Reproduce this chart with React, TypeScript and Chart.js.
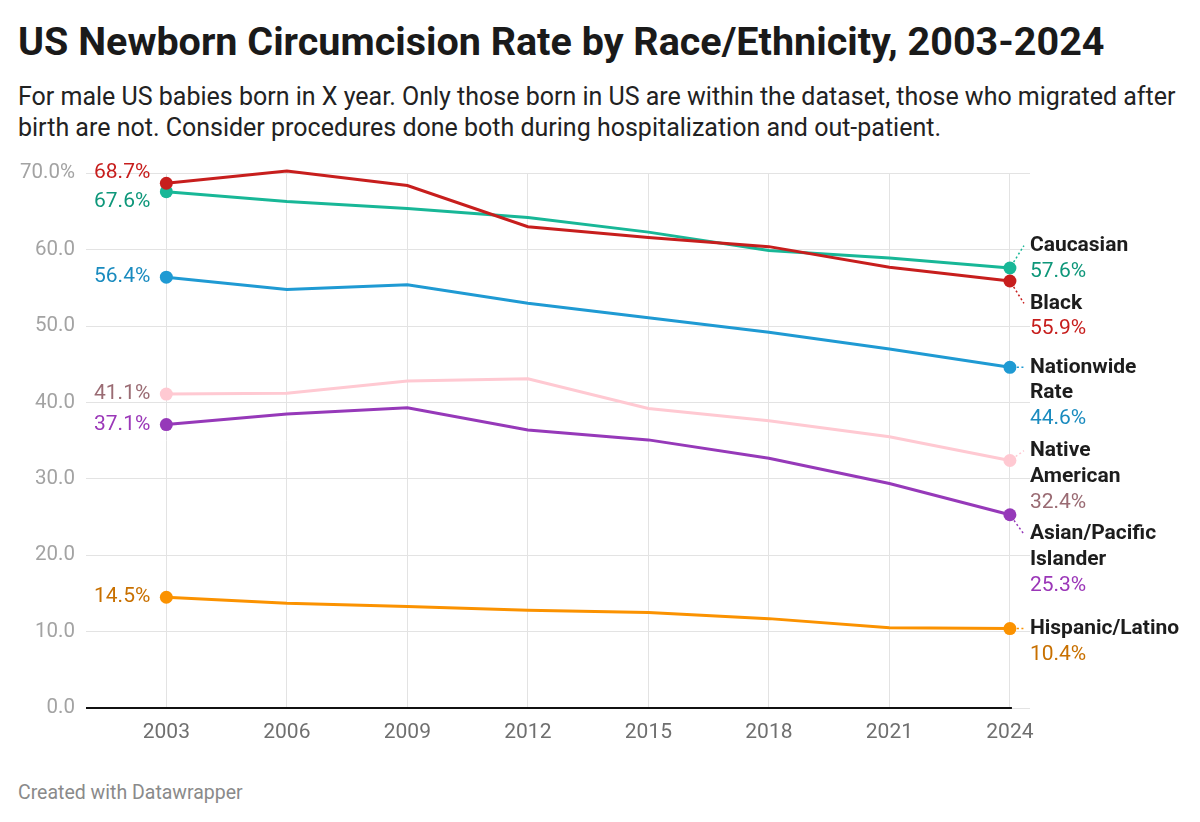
import React, { useEffect, useRef } from "react";
import { Chart, registerables } from "chart.js";

Chart.register(...registerables);

// ---------- data ----------
const years = [2003, 2006, 2009, 2012, 2015, 2018, 2021, 2024];
const seriesNames = [
  "Black",
  "Caucasian",
  "Nationwide Rate",
  "Native American",
  "Asian/Pacific Islander",
  "Hispanic/Latino",
];
const black = [68.7, 70.3, 68.4, 63.0, 61.6, 60.4, 57.7, 55.9];
const caucasian = [67.6, 66.3, 65.4, 64.2, 62.3, 59.9, 58.9, 57.6];
const nationwide = [56.4, 54.8, 55.4, 53.0, 51.1, 49.2, 47.0, 44.6];
const nativeAmerican = [41.1, 41.2, 42.8, 43.1, 39.2, 37.6, 35.5, 32.4];
const asianPacific = [37.1, 38.5, 39.3, 36.4, 35.1, 32.7, 29.4, 25.3];
const hispanic = [14.5, 13.7, 13.3, 12.8, 12.5, 11.7, 10.5, 10.4];
const yTickValues = [0, 10, 20, 30, 40, 50, 60, 70];

const seriesValues = [black, caucasian, nationwide, nativeAmerican, asianPacific, hispanic];
const lineColors = ["#c71e1d", "#18b797", "#1f9ad3", "#ffc9d2", "#9639b9", "#fb9200"];
const textColors = ["#c71e1d", "#0e977a", "#1a8bbf", "#9a6b73", "#9b37b8", "#c87000"];

const FONT = "Roboto, 'Noto Sans', sans-serif";

type Block = { top: number; h: number; idx: number };

// resolve overlaps: split each overlap between the pair, but the upper label
// only moves up as far as the space above it allows
function spread(blocks: Block[], gap: number) {
  blocks.sort((a, b) => a.top - b.top);
  for (let iter = 0; iter < 300; iter++) {
    let moved = false;
    for (let i = 0; i < blocks.length - 1; i++) {
      const a = blocks[i];
      const b = blocks[i + 1];
      const overlap = a.top + a.h + gap - b.top;
      if (overlap > 0.01) {
        const prev = i > 0 ? blocks[i - 1] : null;
        const room = prev ? a.top - (prev.top + prev.h + gap) : Infinity;
        const up = Math.min(overlap / 2, Math.max(room, 0));
        a.top -= up;
        b.top += overlap - up;
        moved = true;
      }
    }
    if (!moved) break;
  }
  return blocks;
}

function wrapText(ctx: CanvasRenderingContext2D, text: string, maxW: number) {
  const words = text.split(" ");
  const lines: string[] = [];
  let cur = "";
  for (const w of words) {
    const test = cur ? cur + " " + w : w;
    if (cur && ctx.measureText(test).width > maxW) {
      lines.push(cur);
      cur = w;
    } else {
      cur = test;
    }
  }
  if (cur) lines.push(cur);
  return lines;
}

export default function App() {
  const ref = useRef<HTMLCanvasElement>(null);

  useEffect(() => {
    const canvas = ref.current;
    if (!canvas) return;

    const baselinePlugin = {
      id: "baseline",
      beforeDatasetsDraw(chart: any) {
        const { ctx, scales } = chart;
        const y0 = scales.y.getPixelForValue(0);
        const xl = chart.chartArea.left;
        const xr = scales.x.getPixelForValue(years[years.length - 1]) + 2;
        ctx.save();
        ctx.strokeStyle = "#111";
        ctx.lineWidth = 2;
        ctx.beginPath();
        ctx.moveTo(xl, y0);
        ctx.lineTo(xr, y0);
        ctx.stroke();
        ctx.restore();
      },
    };

    const labelPlugin = {
      id: "endLabels",
      afterDatasetsDraw(chart: any) {
        const { ctx, scales } = chart;
        const xs = scales.x;
        const ys = scales.y;
        const last = years.length - 1;
        const xFirst = xs.getPixelForValue(years[0]);
        const xLast = xs.getPixelForValue(years[last]);
        ctx.save();

        // left start labels
        const leftLH = 23;
        const leftBlocks: Block[] = seriesValues.map((vals, i) => ({
          top: ys.getPixelForValue(vals[0]) - leftLH / 2,
          h: leftLH,
          idx: i,
        }));
        spread(leftBlocks, 6);
        ctx.font = `21px ${FONT}`;
        ctx.textAlign = "right";
        ctx.textBaseline = "middle";
        for (const b of leftBlocks) {
          ctx.fillStyle = textColors[b.idx];
          ctx.fillText(seriesValues[b.idx][0].toFixed(1) + "%", xFirst - 16, b.top + leftLH / 2);
        }

        // right end labels
        const LH = 25.8;
        const labelX = xLast + 20;
        ctx.font = `bold 21px ${FONT}`;
        const wrapped = seriesNames.map((n) => wrapText(ctx, n, 150));
        const rightBlocks: Block[] = seriesValues.map((vals, i) => ({
          top: ys.getPixelForValue(vals[last]) - LH / 2,
          h: (wrapped[i].length + 1) * LH,
          idx: i,
        }));
        spread(rightBlocks, 6);
        for (const b of rightBlocks) {
          const i = b.idx;
          const firstY = b.top + LH / 2;
          // connector
          const px = xLast;
          const py = ys.getPixelForValue(seriesValues[i][last]);
          const tx = labelX - 6;
          const ty = firstY;
          const dx = tx - px;
          const dy = ty - py;
          const d = Math.hypot(dx, dy);
          if (d > 8) {
            ctx.save();
            ctx.strokeStyle = lineColors[i];
            ctx.lineWidth = 1.5;
            ctx.setLineDash([2, 2.5]);
            ctx.beginPath();
            ctx.moveTo(px + (dx / d) * 7, py + (dy / d) * 7);
            ctx.lineTo(tx, ty);
            ctx.stroke();
            ctx.restore();
          }
          ctx.textAlign = "left";
          ctx.textBaseline = "middle";
          ctx.font = `bold 21px ${FONT}`;
          ctx.fillStyle = "#1d1d1d";
          wrapped[i].forEach((line, k) => {
            ctx.fillText(line, labelX, firstY + k * LH);
          });
          ctx.font = `21px ${FONT}`;
          ctx.fillStyle = textColors[i];
          ctx.fillText(
            seriesValues[i][last].toFixed(1) + "%",
            labelX,
            firstY + wrapped[i].length * LH
          );
        }
        ctx.restore();
      },
    };

    const chart = new Chart(canvas, {
      type: "line",
      data: {
        datasets: seriesValues.map((vals, i) => ({
          label: seriesNames[i],
          data: vals.map((v, k) => ({ x: years[k], y: v })),
          borderColor: lineColors[i],
          backgroundColor: lineColors[i],
          pointBackgroundColor: lineColors[i],
          pointBorderWidth: 0,
          borderWidth: 3,
          tension: 0,
          clip: false as any,
          pointRadius: (c: any) =>
            c.dataIndex === 0 || c.dataIndex === years.length - 1 ? 6.5 : 0,
          pointHoverRadius: 0,
        })),
      },
      options: {
        responsive: false,
        animation: false,
        events: [],
        layout: { padding: { left: 0, right: 170, top: 22, bottom: 0 } },
        plugins: {
          legend: { display: false },
          tooltip: { enabled: false },
          title: { display: false },
        },
        scales: {
          x: {
            type: "linear",
            min: 2001,
            max: 2024.5,
            afterBuildTicks: (scale: any) => {
              scale.ticks = years.map((v) => ({ value: v }));
            },
            afterFit: (scale: any) => {
              scale.height = 52;
            },
            border: { display: false },
            grid: { color: "#e3e3e3", lineWidth: 1, drawTicks: false },
            ticks: {
              padding: 12,
              color: "#6f6f6f",
              font: { family: FONT, size: 21 },
              callback: (v: any) => String(v),
              maxRotation: 0,
              autoSkip: false,
            },
          },
          y: {
            min: 0,
            max: 70,
            afterBuildTicks: (scale: any) => {
              scale.ticks = yTickValues.map((v) => ({ value: v }));
            },
            afterFit: (scale: any) => {
              scale.width = 86;
            },
            border: { display: false },
            grid: { color: "#e3e3e3", lineWidth: 1, drawTicks: false },
            ticks: {
              padding: 11,
              color: "#a3a3a3",
              font: { family: FONT, size: 20.5 },
              callback: (v: any) =>
                v === yTickValues[yTickValues.length - 1]
                  ? Number(v).toFixed(1) + "%"
                  : Number(v).toFixed(1),
            },
          },
        },
      },
      plugins: [baselinePlugin, labelPlugin],
    } as any);

    return () => chart.destroy();
  }, []);

  return (
    <div
      style={{
        position: "absolute",
        left: 0,
        top: 0,
        width: 1200,
        height: 822,
        background: "#fff",
        fontFamily: FONT,
        overflow: "hidden",
      }}
    >
      <div
        style={{
          position: "absolute",
          left: 18,
          top: 20,
          fontSize: 39.5,
          fontWeight: 700,
          lineHeight: "44px",
          color: "#1a1a1a",
          whiteSpace: "nowrap",
        }}
      >
        US Newborn Circumcision Rate by Race/Ethnicity, 2003-2024
      </div>
      <div
        style={{
          position: "absolute",
          left: 18,
          top: 81,
          fontSize: 25,
          lineHeight: "31px",
          color: "#222",
          whiteSpace: "nowrap",
        }}
      >
        <div>
          For male US babies born in X year. Only those born in US are within the dataset, those who migrated after
        </div>
        <div>birth are not. Consider procedures done both during hospitalization and out-patient.</div>
      </div>
      <canvas
        ref={ref}
        width={1200}
        height={610}
        style={{ position: "absolute", left: 0, top: 150, width: 1200, height: 610 }}
      />
      <div
        style={{
          position: "absolute",
          left: 18,
          top: 780,
          fontSize: 19.5,
          lineHeight: "26px",
          color: "#8a8a8a",
          whiteSpace: "nowrap",
        }}
      >
        Created with Datawrapper
      </div>
    </div>
  );
}
